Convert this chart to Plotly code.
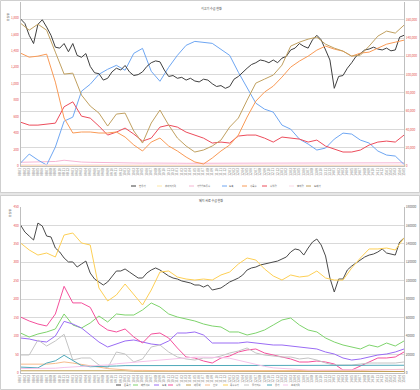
import plotly.graph_objects as go

# ---------------- data ----------------
months = [f"{8 + k // 12:02d}.{k % 12 + 1:02d}" for k in range(89)]
x_pts = months[::2]  # 45 sampled months (most series)

# top chart
top_names = ["한우가", "송아지가격", "가임암소두수", "도축", "사육수", "수입량", "출하량", "도매가"]
top_black = [161000,156000,143000,134000,155000,160000,152000,143000,130000,129000,134000,125000,134000,121000,119000,123000,109000,102000,101000,94000,96000,103000,107000,105000,110000,103000,99000,100000,103000,109000,113000,115000,114000,105000,98000,99000,96000,97000,94000,96000,93000,92000,95000,94000,90000,87000,88000,85000,87000,95000,98000,103000,107000,111000,113000,116000,115000,113000,116000,113000,118000,120000,127000,129000,134000,131000,129000,138000,143000,138000,127000,116000,85000,98000,99000,107000,113000,120000,123000,127000,128000,130000,128000,127000,129000,126000,127000,141000,143000]
top_paleyellow = [5,5,5,5,5,6,6,5,5,5,5,5,5,5,5,5,5,5,5,5,5,5,5,5,5,5,5,5,5,5,5,5,5,5,5,5,5,5,5,5,5,5,5,5,5]
top_pink = [45,47,50,48,55,70,55,48,45,42,40,40,38,36,35,36,38,36,34,33,33,32,32,33,34,35,36,36,35,34,34,33,33,34,35,35,36,36,36,37,37,38,38,38,39]
top_blue = [36,145,73,12,230,545,594,909,994,1115,1176,1224,1164,1370,1430,1152,1030,1200,1345,1467,1515,1503,1491,1418,1345,1139,945,764,691,655,497,448,327,267,194,218,327,400,388,315,279,182,133,121,20]
top_orange = [123500,119100,120200,122400,91800,52500,36100,37200,37200,36100,36100,37200,31700,23000,16400,26200,30600,21900,16400,9800,4400,2200,8700,16400,23000,33900,53600,71000,80900,87400,97300,108200,114800,120200,126800,131200,127900,125700,120200,123500,124600,129000,133300,135500,137700]
top_red = [533,497,497,509,521,720,780,606,582,485,376,412,461,388,303,339,473,497,473,412,376,339,279,291,279,364,376,376,339,291,352,339,327,291,315,242,206,170,170,194,255,291,303,291,376]
top_ltpink = [14,14,15,15,16,18,16,15,15,14,14,14,13,13,13,13,13,13,13,13,12,12,12,12,12,12,12,12,12,12,12,12,12,12,12,12,12,12,12,12,12,12,12,12,12]
top_gold = [156300,148600,155200,148600,124600,100600,101600,77600,65600,57900,43700,56800,57900,38300,25100,47000,61200,44800,30600,21900,15300,17500,21900,28400,42600,52500,72100,90700,95100,99500,110400,131200,135500,138800,141000,133300,129000,125700,120200,121300,131200,142100,147600,145400,154100]

# bottom chart
bot_names = ["돈육가", "배합사료", "도축", "수입", "대두박", "환율", "옥수수가", "물가지수", "유가", "소맥가격"]
bot_black = [160500,152900,148500,144200,162600,159400,148500,147500,135500,131200,124700,120400,120400,114900,118200,121400,108400,101900,98700,95400,98700,105200,110600,110600,112800,109500,106300,103000,103000,108400,111700,113900,111700,108400,105200,103000,101900,99800,98700,97600,95400,95400,93200,95400,90000,91100,92200,95400,98700,100800,103000,106300,111700,113900,114900,117100,118200,119300,120400,121400,123600,125800,131200,134500,133400,127900,135500,142000,145300,138800,126900,103000,87800,101900,101900,111700,116000,119300,122500,125800,127900,129000,131200,134500,130100,129000,127900,142000,146400]
bot_green = [108.4,97.6,105.7,111.2,119.3,160,130.1,122,135.6,154.5,138.3,160,157.2,157.2,170.8,189.8,178.9,160,151.8,146.4,141,132.8,127.4,124.7,111.2,111.2,103,108.4,116.6,130.1,143.7,149.1,130.1,116.6,111.2,94.9,84,75.9,70.5,65.1,75.9,70.5,81.3,73.2,86.8]
bot_purple = [94.9,92.2,86.8,84,100.3,140,132.8,122,103,84,70.5,78.6,86.8,89.5,84,78.6,75.9,86.8,108.4,108.4,111.2,103,81.3,81.3,81.3,81.3,84,81.3,78.6,75.9,75.9,73.2,70.5,67.8,65.1,56.9,51.5,40.7,35.2,38,43.4,48.8,51.5,56.9,65.1]
bot_pink = [151.8,141,132.8,127.4,160,235,190,190,178,132.8,116.6,111.2,119.3,97.6,81.3,105.7,108.4,94.9,67.8,43.4,40.7,32.5,27.1,40.7,46.1,56.9,62.4,65.1,54.2,48.8,43.4,38,29.8,29.8,32.5,29.8,24.4,8.1,8.1,19,29.8,40.7,40.7,43.4,56.9]
bot_olive = [6,6,6,7,7,8,7,6,6,6,6,6,6,5,5,5,5,5,5,5,5,5,5,5,5,5,5,5,5,5,5,5,5,5,5,4,4,4,4,4,4,4,4,4,4]
bot_peach = [24,24,23,24,26,30,27,24,20,16,12,10,8,7,7,6,6,6,6,6,6,5,5,5,5,5,5,5,5,5,5,5,5,5,5,5,5,6,7,7,8,8,9,9,10]
bot_yellow = [141000,133400,127900,130100,125800,149600,151800,141000,138800,92200,78100,84600,96500,84600,73700,90000,109500,110600,104100,101900,100800,101900,100800,106300,109500,118200,124700,122500,112800,105200,100800,106300,104100,105200,110600,103000,100800,100800,113900,124700,134500,134500,135500,133400,146400]
bot_gray = [48.8,48.8,89.5,73.2,86.8,105,35.2,40.7,40.7,21.7,13.6,56.9,51.5,29.8,38,70.5,75.9,56.9,43.4,38,35.2,40.7,40.7,46.1,54.2,59.6,67.8,54.2,48.8,46.1,43.4,43.4,38,40.7,35.2,27.1,21.7,21.7,21.7,24.4,27.1,27.1,27.1,27.1,29.8]
bot_teal = [16,16,14,27,33,48,33,20,17,17,18,19,20,20,20,21,21,21,21,22,21,21,21,21,21,22,21,21,21,21,21,21,21,22,21,21,21,21,21,21,21,21,21,21,21]
bot_ltpink = [12,12,12,13,13,15,16,17,18,20,22,25,27,30,32,34,36,38,40,41,43,43,43,42,40,34,28,23,18,14,12,10,9,8,8,8,8,8,8,8,8,8,9,9,9]

# ---------------- styling ----------------
W, H = 420, 390
FONT = "Noto Sans CJK KR"
RED = "#e5504c"
GRAY_T = "#595959"

def px(x):
    return x / W

def py(y):
    return 1 - y / H

fig = go.Figure()

top_series = [
    (top_names[0], top_black, "#3f3f3f", "y2"),
    (top_names[1], top_paleyellow, "#fde7a6", "y"),
    (top_names[2], top_pink, "#f6b5d3", "y"),
    (top_names[3], top_blue, "#6ea6f2", "y"),
    (top_names[4], top_orange, "#f99a56", "y2"),
    (top_names[5], top_red, "#ec4c5b", "y"),
    (top_names[6], top_ltpink, "#fbd9e7", "y"),
    (top_names[7], top_gold, "#c0a060", "y2"),
]
for name, vals, col, ax in top_series:
    xs = months if len(vals) == len(months) else x_pts
    fig.add_trace(go.Scatter(x=xs, y=vals, name=name, mode="lines",
                             line=dict(color=col, width=1), xaxis="x", yaxis=ax,
                             showlegend=False))

bot_series = [
    (bot_names[0], bot_black, "#4a4a4a", "y4"),
    (bot_names[1], bot_green, "#7ed36c", "y3"),
    (bot_names[2], bot_purple, "#9a6cf4", "y3"),
    (bot_names[3], bot_pink, "#f4509c", "y3"),
    (bot_names[4], bot_olive, "#c2a255", "y3"),
    (bot_names[5], bot_peach, "#f6bb8c", "y3"),
    (bot_names[6], bot_yellow, "#fdcf55", "y4"),
    (bot_names[7], bot_gray, "#c4c4c4", "y3"),
    (bot_names[8], bot_teal, "#4fa9ba", "y3"),
    (bot_names[9], bot_ltpink, "#f5c3ea", "y3"),
]
for name, vals, col, ax in bot_series:
    xs = months if len(vals) == len(months) else x_pts
    fig.add_trace(go.Scatter(x=xs, y=vals, name=name, mode="lines",
                             line=dict(color=col, width=1), xaxis="x2", yaxis=ax,
                             showlegend=False))

xcommon = dict(type="category", categoryorder="array", categoryarray=months,
               range=[0, 88], tickmode="array", tickvals=months, ticktext=months,
               tickangle=-90, tickfont=dict(size=3, color=GRAY_T, family=FONT),
               showline=True, linecolor="#bfbfbf", linewidth=1, showgrid=False,
               ticks="", zeroline=False, automargin=False)

ycommon = dict(showline=True, linecolor="#bfbfbf", linewidth=1, zeroline=False,
               ticks="", automargin=False)

top_dom = [py(166), py(1.5)]
bot_dom = [py(373), py(207)]
xdom = [px(20.5), px(404)]

fig.update_layout(
    template="none",
    width=W, height=H, margin=dict(l=0, r=0, t=0, b=0, pad=0),
    paper_bgcolor="white", plot_bgcolor="rgba(0,0,0,0)",
    showlegend=False,
    xaxis=dict(domain=xdom, anchor="y", **xcommon),
    xaxis2=dict(domain=xdom, anchor="y3", **xcommon),
    yaxis=dict(domain=top_dom, anchor="x", range=[0, 2000], dtick=200, tickformat=",",
               tickfont=dict(size=3.2, color=RED, family=FONT), showgrid=False, **ycommon),
    yaxis2=dict(domain=top_dom, anchor="x", overlaying="y", side="right",
                range=[0, 180000], dtick=20000, tickformat=",",
                tickfont=dict(size=3.2, color=RED, family=FONT), showgrid=True,
                gridcolor="#d9d9d9", gridwidth=1, **ycommon),
    yaxis3=dict(domain=bot_dom, anchor="x2", range=[0, 450], dtick=50,
                tickfont=dict(size=3.2, color=RED, family=FONT), showgrid=True,
                gridcolor="#d9d9d9", gridwidth=1, **ycommon),
    yaxis4=dict(domain=bot_dom, anchor="x2", overlaying="y3", side="right",
                range=[0, 180000], dtick=20000, tickformat="d",
                tickfont=dict(size=3.2, color=GRAY_T, family=FONT), showgrid=False, **ycommon),
)

shapes = []
annotations = []

# chart frames
shapes.append(dict(type="rect", xref="paper", yref="paper", x0=0, x1=1, y0=py(196), y1=py(192),
                   fillcolor="#e6e6e6", line=dict(width=0), layer="below"))
for y0, y1 in [(0.5, 192.5), (195.5, 389.5)]:
    shapes.append(dict(type="rect", xref="paper", yref="paper", x0=px(0.5), x1=px(419.5),
                       y0=py(y1), y1=py(y0), line=dict(color="#cfcfcf", width=1),
                       fillcolor="rgba(0,0,0,0)", layer="below"))

# titles / unit labels
annotations.append(dict(text="쇠고기 수급 현황", x=px(211), y=py(4.5), xref="paper", yref="paper",
                        showarrow=False, font=dict(size=3, color="#404040", family=FONT)))
annotations.append(dict(text="돼지 사료 수급 현황", x=px(211), y=py(200.5), xref="paper", yref="paper",
                        showarrow=False, font=dict(size=3, color="#404040", family=FONT)))
annotations.append(dict(text="단위:원", x=px(4), y=py(11), xref="paper", yref="paper", textangle=-90,
                        showarrow=False, font=dict(size=2.6, color="#404040", family=FONT)))
annotations.append(dict(text="단위:원", x=px(6), y=py(213), xref="paper", yref="paper", textangle=-90,
                        showarrow=False, font=dict(size=2.6, color="#404040", family=FONT)))

# manual legends
def legend(series, xs, ypix):
    for (name, _v, col, _a), x0 in zip(series, xs):
        shapes.append(dict(type="line", xref="paper", yref="paper", x0=px(x0), x1=px(x0 + 5),
                           y0=py(ypix), y1=py(ypix), line=dict(color=col, width=1)))
        annotations.append(dict(text=name, x=px(x0 + 5.5), y=py(ypix), xref="paper", yref="paper",
                                xanchor="left", yanchor="middle", showarrow=False,
                                font=dict(size=2.4, color="#595959", family=FONT)))

legend(top_series, [131, 157, 189, 222, 242, 262, 289, 306], 186)
legend(bot_series, [116, 133, 154, 168, 186, 205, 223, 244, 267, 283], 385)

fig.update_layout(shapes=shapes, annotations=annotations)
fig.write_html("out.html", config={"displayModeBar": False},
               post_script="document.body.style.margin='0';document.body.style.overflow='hidden';")
